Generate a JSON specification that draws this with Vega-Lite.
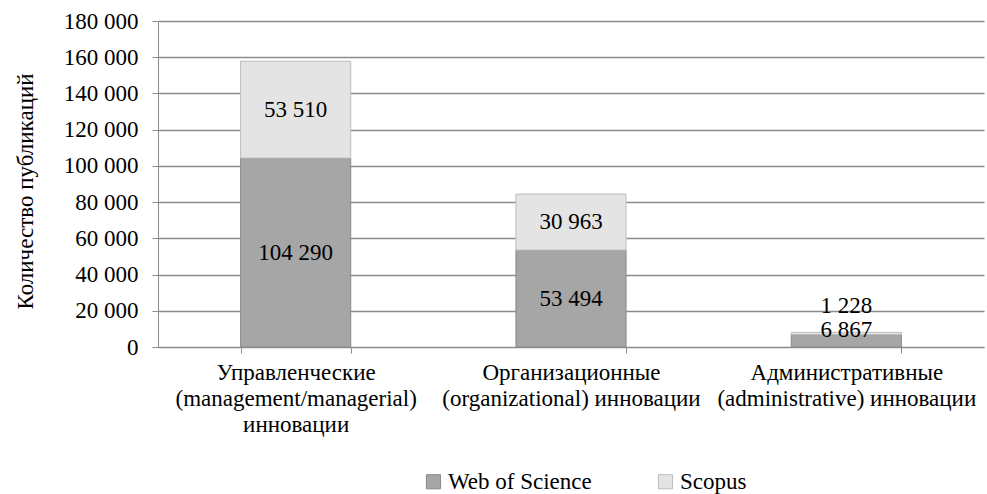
{
  "$schema": "https://vega.github.io/schema/vega-lite/v6.json",
  "width": 826,
  "height": 326,
  "autosize": "none",
  "padding": {"left": 158, "top": 21, "right": 3, "bottom": 147},
  "background": "white",
  "config": {
    "locale": {"number": {"decimal": ",", "thousands": " ", "grouping": [3], "currency": ["", ""]}},
    "font": "Liberation Serif",
    "view": {"stroke": null},
    "axis": {"labelFont": "Liberation Serif", "titleFont": "Liberation Serif", "labelColor": "black", "titleColor": "black"},
    "axisY": {
      "title": "Количество публикаций", "titleFontSize": 23, "titleFontWeight": "normal", "titlePadding": 26, "titleY": 170,
      "labelOverlap": false, "labelBound": false, "labelFlush": false,
      "format": ",d", "labelFontSize": 23, "labelPadding": 14, "tickSize": 6,
      "tickColor": "#8c8c8c", "domainColor": "#8c8c8c", "gridColor": "#8c8c8c", "gridWidth": 1.3
    },
    "legend": {"labelFont": "Liberation Serif"},
    "text": {"font": "Liberation Serif"}
  },
  "data": {
    "values": [
      {"category": "Управленческие\n(management/managerial)\nинновации", "source": "Web of Science", "count": 104290},
      {"category": "Управленческие\n(management/managerial)\nинновации", "source": "Scopus", "count": 53510},
      {"category": "Организационные\n(organizational) инновации", "source": "Web of Science", "count": 53494},
      {"category": "Организационные\n(organizational) инновации", "source": "Scopus", "count": 30963},
      {"category": "Административные\n(administrative) инновации", "source": "Web of Science", "count": 6867},
      {"category": "Административные\n(administrative) инновации", "source": "Scopus", "count": 1228}
    ]
  },
  "encoding": {
    "x": {
      "field": "category", "type": "nominal", "sort": null,
      "scale": {"paddingInner": 0.6, "paddingOuter": 0.3},
      "axis": {
        "title": null, "labelExpr": "split(datum.label, '\\n')", "labelFontSize": 23, "labelAngle": 0,
        "labelPadding": 8, "labelLineHeight": 26, "labelLimit": 0, "labelOverlap": false,
        "tickBand": "extent", "tickSize": 6,
        "tickColor": "#8c8c8c", "domainColor": "#8c8c8c", "grid": false
      }
    }
  },
  "layer": [
    {
      "mark": {"type": "bar", "strokeWidth": 1},
      "encoding": {
        "y": {
          "field": "count", "type": "quantitative", "stack": "zero",
          "scale": {"domain": [0, 180000], "nice": false},
          "axis": {"title": "Количество публикаций", "values": [0, 20000, 40000, 60000, 80000, 100000, 120000, 140000, 160000, 180000]}
        },
        "color": {
          "field": "source", "type": "nominal",
          "scale": {"domain": ["Web of Science", "Scopus"], "range": ["#a6a6a6", "#e4e4e4"]},
          "legend": {
            "title": null, "orient": "none", "legendX": 264, "legendY": 449, "direction": "horizontal",
            "symbolType": "square", "symbolSize": 200, "symbolStrokeColor": "#8c8c8c", "symbolStrokeWidth": 1,
            "labelFontSize": 23, "labelColor": "black", "columnPadding": 62, "labelOffset": 3
          }
        },
        "stroke": {
          "field": "source", "type": "nominal",
          "scale": {"domain": ["Web of Science", "Scopus"], "range": ["#8a8a8a", "#bdbdbd"]},
          "legend": null
        },
        "order": {"field": "source", "sort": "descending"}
      }
    },
    {
      "transform": [{"filter": "indexof(datum.category, 'Административные') < 0"}],
      "mark": {"type": "text", "font": "Liberation Serif", "fontSize": 23, "color": "black", "baseline": "middle"},
      "encoding": {
        "y": {"field": "count", "type": "quantitative", "stack": "zero", "bandPosition": 0.5,
              "axis": {"title": "Количество публикаций", "values": [0, 20000, 40000, 60000, 80000, 100000, 120000, 140000, 160000, 180000]}},
        "text": {"field": "count", "type": "quantitative", "format": ",d"},
        "order": {"field": "source", "sort": "descending"},
        "detail": {"field": "source"}
      }
    },
    {
      "transform": [{"filter": "indexof(datum.category, 'Административные') >= 0 && datum.source == 'Web of Science'"}],
      "mark": {"type": "text", "font": "Liberation Serif", "fontSize": 23, "color": "black", "baseline": "middle", "dy": -5},
      "encoding": {
        "y": {"field": "count", "type": "quantitative",
              "axis": {"title": "Количество публикаций", "values": [0, 20000, 40000, 60000, 80000, 100000, 120000, 140000, 160000, 180000]}},
        "text": {"field": "count", "type": "quantitative", "format": ",d"}
      }
    },
    {
      "transform": [{"filter": "indexof(datum.category, 'Административные') >= 0 && datum.source == 'Scopus'"}],
      "mark": {"type": "text", "font": "Liberation Serif", "fontSize": 23, "color": "black", "baseline": "middle", "dy": -39},
      "encoding": {
        "y": {"field": "count", "type": "quantitative",
              "axis": {"title": "Количество публикаций", "values": [0, 20000, 40000, 60000, 80000, 100000, 120000, 140000, 160000, 180000]}},
        "text": {"field": "count", "type": "quantitative", "format": ",d"}
      }
    }
  ]
}
